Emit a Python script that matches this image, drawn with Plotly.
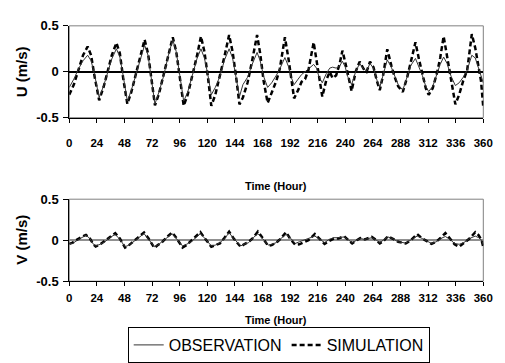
import plotly.graph_objects as go

# ---------------- data ----------------
u_time = [0, 4, 8, 12, 16, 19, 22, 26, 30, 34, 37, 41, 44, 47, 50.5, 54, 58, 62, 65.5, 68.5,
          71.5, 74.5, 78, 82, 86, 90, 93, 96, 99.5, 103, 107, 111, 114.5, 117.5, 120.5, 123.5,
          127, 131, 135, 139, 142, 145, 148, 151, 155, 159, 163.3, 166, 169, 172.5, 176, 180,
          183, 187.5, 190.5, 193, 195.5, 199, 202, 205, 208, 212.5, 215, 217, 220, 223.5,
          226.5, 229, 232, 235, 237.5, 240, 242, 245.5, 249, 252.5, 256, 258.5, 261.5, 264.5,
          267.5, 270, 273, 276.5, 280, 283, 286, 290, 294, 297, 301, 304, 307, 310, 312.5,
          316, 320, 322.5, 325.5, 328.5, 332, 335.7, 339, 342.5, 346, 350, 353, 356, 358, 360]
u_sim = [-0.25, -0.14, 0.02, 0.18, 0.275, 0.18, -0.05, -0.31, -0.16, 0.03, 0.18, 0.315, 0.20,
         -0.08, -0.35, -0.22, -0.03, 0.18, 0.35, 0.20, -0.10, -0.365, -0.24, -0.05, 0.17, 0.375,
         0.22, -0.05, -0.37, -0.25, -0.05, 0.17, 0.385, 0.22, -0.05, -0.37, -0.25, -0.05, 0.17,
         0.40, 0.22, -0.05, -0.355, -0.28, -0.12, 0.12, 0.40, 0.20, -0.10, -0.34, -0.23, -0.10,
         0.03, 0.375, 0.15, -0.10, -0.29, -0.20, -0.11, -0.08, 0.02, 0.32, 0.12, -0.08, -0.27,
         -0.09, 0.00, -0.07, -0.04, 0.08, 0.23, 0.10, -0.02, -0.21, 0.00, 0.11, 0.03, 0.00,
         0.11, 0.05, -0.10, -0.20, -0.03, 0.245, 0.07, -0.06, -0.16, -0.22, -0.05, 0.12, 0.32,
         0.14, -0.03, -0.18, -0.25, -0.18, 0.00, 0.15, 0.385, 0.18, -0.08, -0.355, -0.25, -0.10,
         0.02, 0.41, 0.26, 0.02, -0.10, -0.39]
u_obs = [-0.17, -0.08, 0.03, 0.12, 0.18, 0.12, -0.03, -0.28, -0.15, 0.02, 0.14, 0.25, 0.16,
         -0.05, -0.32, -0.20, -0.03, 0.16, 0.29, 0.18, -0.08, -0.35, -0.22, -0.05, 0.17, 0.35,
         0.22, -0.05, -0.32, -0.22, -0.05, 0.14, 0.25, 0.15, -0.03, -0.25, -0.17, -0.05, 0.13,
         0.25, 0.15, -0.05, -0.27, -0.14, -0.06, 0.08, 0.21, 0.12, -0.05, -0.17, -0.12, -0.04,
         0.03, 0.155, 0.06, -0.06, -0.14, -0.08, -0.03, 0.00, 0.03, 0.08, 0.04, -0.05, -0.12,
         -0.02, 0.04, 0.05, 0.04, 0.06, 0.115, 0.05, -0.05, -0.14, 0.00, 0.09, 0.03, 0.01,
         0.09, 0.04, -0.09, -0.17, -0.03, 0.13, 0.05, -0.05, -0.14, -0.20, -0.05, 0.07, 0.145,
         0.06, -0.04, -0.16, -0.215, -0.16, -0.01, 0.08, 0.16, 0.09, -0.05, -0.15, -0.12, -0.06,
         0.02, 0.18, 0.15, 0.03, -0.06, -0.12]

v_time = [0, 3, 6, 9, 12, 14.5, 18, 21, 23, 27, 31, 35, 40, 44, 48.5, 52, 56, 60, 65, 69, 74,
          77, 81, 85, 89.5, 93, 98.5, 102, 106, 110, 114, 118, 123.5, 127, 131, 135, 139, 143,
          149, 152, 156, 160, 164, 168, 173, 176, 180, 184, 188.5, 192, 196.5, 200, 204, 208,
          213.5, 217, 222, 226, 230, 234, 239, 242, 246, 250, 253, 257, 263, 267, 270, 274, 277,
          281, 286, 292.5, 297, 302.5, 307, 315, 319, 323, 327, 331, 335, 339, 343, 348, 353,
          356, 358.5, 360]
v_sim = [-0.045, -0.03, 0.00, 0.03, 0.05, 0.065, 0.02, -0.05, -0.078, -0.05, -0.01, 0.04, 0.085,
         0.02, -0.09, -0.06, -0.01, 0.04, 0.094, 0.02, -0.094, -0.06, -0.02, 0.04, 0.094, 0.03,
         -0.09, -0.06, -0.01, 0.04, 0.098, 0.02, -0.08, -0.06, -0.04, 0.03, 0.105, 0.02, -0.08,
         -0.05, -0.02, 0.03, 0.105, 0.03, -0.07, -0.06, -0.03, 0.02, 0.098, 0.02, -0.056, -0.05,
         -0.02, 0.00, 0.075, 0.02, -0.046, -0.01, 0.02, 0.02, 0.048, 0.01, -0.04, 0.00, 0.025,
         0.01, 0.04, 0.00, -0.04, 0.00, 0.048, 0.02, -0.02, -0.04, 0.00, 0.075, 0.02, -0.046,
         -0.02, 0.03, 0.087, 0.02, -0.05, -0.08, -0.04, 0.02, 0.098, 0.06, 0.00, -0.085]
v_obs = [-0.04, -0.04, -0.01, 0.02, 0.04, 0.06, 0.02, -0.05, -0.07, -0.05, -0.02, 0.03, 0.07,
         0.01, -0.08, -0.06, -0.02, 0.03, 0.08, 0.01, -0.08, -0.06, -0.02, 0.03, 0.08, 0.02,
         -0.07, -0.05, -0.02, 0.03, 0.08, 0.02, -0.07, -0.06, -0.03, 0.02, 0.09, 0.02, -0.07,
         -0.05, -0.03, 0.03, 0.08, 0.02, -0.06, -0.05, -0.03, 0.02, 0.07, 0.03, -0.04, -0.02,
         0.00, 0.02, 0.05, 0.02, -0.03, 0.01, 0.03, 0.03, 0.04, 0.01, -0.03, 0.00, 0.02, 0.01,
         0.03, 0.00, -0.03, 0.01, 0.04, 0.02, -0.02, -0.035, 0.00, 0.05, 0.02, -0.04, -0.02,
         0.02, 0.045, 0.01, -0.04, -0.05, -0.03, 0.02, 0.05, 0.03, 0.00, -0.06]

x_ticks = [0, 24, 48, 72, 96, 120, 144, 168, 192, 216, 240, 264, 288, 312, 336, 360]
y_ticks = [-0.5, 0, 0.5]
y_ticktext = ["-0.5", "0", "0.5"]
series_names = ["OBSERVATION", "SIMULATION"]

# ---------------- figure ----------------
W, H = 505, 363
FONT = "Liberation Sans, Arial, sans-serif"

obs_line = dict(color="#333333", width=1)
sim_line = dict(color="black", width=2.5, dash="5px,3px")

fig = go.Figure()
fig.add_trace(go.Scatter(x=u_time, y=u_sim, mode="lines", name=series_names[1], line=sim_line,
                         xaxis="x", yaxis="y", legendrank=2))
fig.add_trace(go.Scatter(x=u_time, y=u_obs, mode="lines", name=series_names[0], line=obs_line,
                         xaxis="x", yaxis="y", legendrank=1))
fig.add_trace(go.Scatter(x=v_time, y=v_sim, mode="lines", name=series_names[1], line=sim_line,
                         xaxis="x2", yaxis="y2", showlegend=False))
fig.add_trace(go.Scatter(x=v_time, y=v_obs, mode="lines", name=series_names[0], line=obs_line,
                         xaxis="x2", yaxis="y2", showlegend=False))

xdom = [68 / W, 493 / W]
ydom_top = [1 - 117.5 / H, 1 - 20 / H]
ydom_bot = [1 - 291 / H, 1 - 204 / H]

tickfont = dict(family=FONT, size=11.5, color="black", weight="bold")

def xaxis(anchor, standoff):
    return dict(domain=xdom, anchor=anchor, range=[0, 360], tickvals=x_ticks,
                ticks="outside", ticklen=4, tickcolor="black", showline=True,
                linecolor="black", linewidth=1, showgrid=False, zeroline=False,
                tickfont=tickfont, ticklabelstandoff=standoff, fixedrange=True)

def yaxis(anchor, dom, zcolor, zwidth):
    return dict(domain=dom, anchor=anchor, range=[-0.5, 0.5], tickvals=y_ticks,
                ticktext=y_ticktext, ticks="outside", ticklen=5, tickcolor="black",
                showline=True, linecolor="black", linewidth=1, showgrid=False,
                zeroline=True, zerolinecolor=zcolor, zerolinewidth=zwidth,
                tickfont=dict(family=FONT, size=13, color="black", weight="bold"),
                ticklabelstandoff=2, fixedrange=True)

title_font = dict(family=FONT, size=15, color="black", weight="bold")
time_font = dict(family=FONT, size=11, color="black", weight="bold")

def label(text, px, py, font, angle=0):
    return dict(text=text, xref="paper", yref="paper", x=px / W, y=1 - py / H,
                xanchor="center", yanchor="middle", textangle=angle,
                showarrow=False, font=font)

fig.update_layout(
    width=W, height=H, margin=dict(l=0, r=0, t=0, b=0),
    paper_bgcolor="white", plot_bgcolor="white",
    xaxis=xaxis("y", 10), yaxis=yaxis("x", ydom_top, "black", 1.5),
    xaxis2=xaxis("y2", 2), yaxis2=yaxis("x2", ydom_bot, "#909090", 2),
    showlegend=True,
    legend=dict(orientation="h", x=128 / W, xanchor="left", y=1 - 340 / H, yanchor="top",
                bordercolor="black", borderwidth=1, bgcolor="white",
                font=dict(family=FONT, size=16, color="black"), tracegroupgap=0),
    shapes=[
        dict(type="rect", xref="x domain", yref="y domain", x0=0, x1=1, y0=0, y1=1,
             line=dict(color="#808080", width=1), layer="below"),
        dict(type="rect", xref="x2 domain", yref="y2 domain", x0=0, x1=1, y0=0, y1=1,
             line=dict(color="#808080", width=1), layer="below"),
    ],
    annotations=[
        label("U (m/s)", 19, 68.75, title_font, -90),
        label("V (m/s)", 19, 247.5, title_font, -90),
        label("Time (Hour)", 280.5, 190, time_font),
        label("Time (Hour)", 280.5, 332, time_font),
    ],
)

fig.write_html(
    "out.html",
    config={"displayModeBar": False},
    post_script="document.body.style.margin='0';document.body.style.overflow='hidden';",
)
